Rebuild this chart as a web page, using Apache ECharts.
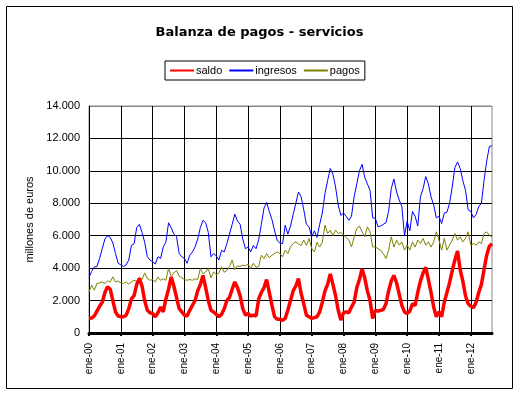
<!DOCTYPE html>
<html>
<head>
<meta charset="utf-8">
<script src="https://cdn.jsdelivr.net/npm/echarts@6/dist/echarts.min.js"></script>
<style>
html,body{margin:0;padding:0;background:#fff;}
#c{width:519px;height:395px;}
</style>
</head>
<body>
<div id="c"></div>
<script>
// ---- data ----
const monthNames = ['ene','feb','mar','abr','may','jun','jul','ago','sep','oct','nov','dic'];
const years = ['00','01','02','03','04','05','06','07','08','09','10','11','12'];
const lastYearMonths = 9; // ene-12 .. sep-12

const saldo = [
  900, 920, 1050, 1350, 1650, 1900, 2500, 2850, 2700, 2000, 1300, 1050,
  1000, 1000, 1100, 1500, 2100, 2300, 3000, 3350, 2900, 2000, 1400, 1250,
  1200, 1000, 1250, 1600, 1300, 2100, 2700, 3450, 2900, 2200, 1500, 1300,
  1100, 1050, 1400, 1700, 2000, 2600, 3000, 3550, 2800, 2000, 1400, 1300,
  1150, 1000, 1150, 1500, 2000, 2200, 2700, 3150, 2800, 2300, 1500, 1100,
  1200, 1050, 1100, 1050, 2100, 2500, 2800, 3300, 2500, 1700, 1000, 850,
  850, 780, 900, 1400, 2000, 2600, 2900, 3350, 2450, 1800, 1100, 1000,
  900, 950, 1000, 1300, 1900, 2600, 3000, 3650, 3000, 2300, 1400, 800,
  1250, 1300, 1250, 1600, 1900, 2800, 3300, 3950, 3400, 2600, 2000, 900,
  1400, 1350, 1400, 1450, 1800, 2600, 3200, 3550, 3100, 2400, 1700, 1300,
  1200, 1350, 1800, 1700, 2500, 3200, 3700, 4050, 3300, 2500, 1600, 1000,
  1300, 1000, 1900, 2500, 3100, 3850, 4500, 5050, 3900, 3200, 2300, 1800,
  1650, 1550, 1900, 2500, 3000, 3900, 4800, 5350, 5500
];
const ingresos = [
  3420, 3800, 4080, 4100, 4600, 5200, 5800, 6000, 5900, 5550, 4900, 4300,
  4200, 4100, 4200, 4500, 5400, 5500, 6500, 6700, 6200, 5600, 4700, 4500,
  4400, 4250, 4700, 4600, 5300, 5600, 6800, 6500, 6100, 5950, 4900, 4700,
  4600, 4300, 4800, 5000, 5300, 5800, 6500, 6950, 6800, 6200, 4700, 4900,
  4750, 4500, 5100, 5000, 5500, 6100, 6700, 7330, 6900, 6700, 5800, 5200,
  5300, 5000, 5400, 5200, 5750, 6700, 7700, 8050, 7500, 7000, 6300, 5700,
  5550, 5500, 6650, 6100, 6600, 7300, 8000, 8700, 8400, 7600, 6700, 6550,
  5950, 6300, 5900, 6700, 7400, 8600, 9400, 10150, 9800, 9000, 7900, 7250,
  7400, 7200, 6950, 7200, 8400, 9200, 10000, 10400, 9600, 9200, 8800, 7100,
  7070, 6550, 6600, 6700, 6800, 7500, 8900, 9500, 8700, 8200, 7800, 6000,
  6900, 6300, 7500, 7200, 6600, 8400, 8900, 9650, 9200, 8400, 7900, 7100,
  7200, 6750, 7400, 7450, 8000, 9000, 10200, 10550, 10150, 9400, 8800, 7600,
  7500, 7100, 7300, 7800, 8000, 9400, 10600, 11500, 11550
];
const pagos = [
  2530, 2950, 2640, 3050, 3090, 3150, 3050, 3210, 3150, 3460, 3150, 3200,
  3090, 3050, 3150, 3010, 3150, 3250, 3200, 3460, 3300, 3700, 3360, 3250,
  3300, 3150, 3450, 3250, 3350, 3250, 3980, 3500, 3700, 3870, 3500, 3400,
  3300, 3250, 3300, 3250, 3350, 3300, 3980, 3650, 3770, 3980, 3400, 3770,
  3600, 3700, 4080, 3750, 3850, 4100, 4490, 3900, 4150, 4100, 4180, 4150,
  4240, 3980, 4300, 4050, 4100, 4800, 4590, 4900, 4650, 4800, 4900, 5000,
  4900, 4700, 5110, 4900, 5310, 5520, 5620, 5500, 5400, 5730, 5400, 5830,
  5210, 5000, 5600, 5300, 5600, 6650, 6140, 6340, 6000, 6340, 6140, 6200,
  6040, 5900, 5730, 5310, 5900, 6450, 6590, 6240, 5930, 6550, 6240, 5310,
  5310, 5200, 5110, 4900, 4590, 5110, 5930, 5300, 5730, 5420, 5620, 5110,
  5420, 5110, 5620, 5300, 5730, 5520, 5830, 5420, 5620, 5300, 5620, 6240,
  5730, 5110, 5830, 5110, 5420, 5730, 6140, 5730, 5930, 5620, 5830, 6240,
  5420, 5520, 5420, 5620, 5520, 6140, 6240, 6030, 5930
];
const yTicks = [0, 2000, 4000, 6000, 8000, 10000, 12000, 14000];

// categories
const categories = [];
years.forEach((y, yi) => {
  const n = (yi === years.length - 1) ? lastYearMonths : 12;
  for (let m = 0; m < n; m++) categories.push(monthNames[m] + '-' + y);
});

const fontFam = '"Liberation Sans", Arial, sans-serif';
const isJan = (idx) => idx % 12 === 0;

const chart = echarts.init(document.getElementById('c'), null, {renderer: 'canvas'});
chart.setOption({
  animation: false,
  backgroundColor: '#fff',
  title: {
    text: 'Balanza de pagos - servicios',
    left: 'center',
    top: 21,
    textStyle: {fontFamily: '"DejaVu Sans", sans-serif', fontSize: 13, fontWeight: 'bold', color: '#000'}
  },
  legend: {
    left: 165,
    top: 61,
    padding: [4, 5, 4, 4],
    itemGap: 6,
    itemWidth: 24,
    itemHeight: 10,
    borderColor: '#000',
    borderWidth: 1,
    itemStyle: {opacity: 0},
    textStyle: {fontFamily: fontFam, fontSize: 11, color: '#000', padding: [0, 0, 0, -3]},
    data: ['saldo', 'ingresos', 'pagos']
  },
  graphic: [{
    type: 'rect',
    shape: {x: 6.5, y: 6.5, width: 506, height: 382},
    style: {fill: 'none', stroke: '#000', lineWidth: 1},
    silent: true,
    z: -1
  }],
  grid: {
    left: 89,
    right: 27,
    top: 106,
    bottom: 62,
    show: true,
    borderColor: '#888',
    borderWidth: 1,
    containLabel: false
  },
  xAxis: {
    type: 'category',
    data: categories,
    boundaryGap: false,
    axisLine: {show: true, lineStyle: {color: '#000', width: 3}},
    axisTick: {show: true, interval: (idx) => isJan(idx), length: 3, lineStyle: {color: '#000', width: 2}},
    axisLabel: {
      interval: (idx) => isJan(idx),
      rotate: 90,
      margin: 10,
      fontFamily: fontFam,
      fontSize: 10,
      color: '#000'
    },
    splitLine: {show: true, interval: (idx) => isJan(idx), lineStyle: {color: '#000', width: 1}}
  },
  yAxis: {
    type: 'value',
    min: yTicks[0],
    max: yTicks[yTicks.length - 1],
    interval: 2000,
    name: 'millones de euros',
    nameLocation: 'middle',
    nameGap: 44,
    nameTextStyle: {fontFamily: fontFam, fontSize: 11, color: '#000'},
    axisLine: {show: true, lineStyle: {color: '#000', width: 1}},
    axisTick: {show: false},
    axisLabel: {
      margin: 9,
      fontFamily: fontFam,
      fontSize: 11,
      color: '#000',
      formatter: (v) => v === 0 ? '0' : v.toLocaleString('de-DE', {minimumFractionDigits: 0}).replace(/,/g, '.')
    },
    splitLine: {show: true, lineStyle: {color: ['#000','#000','#000','#000','#000','#000','#000','#888'], width: 1}}
  },
  series: [
    {name: 'saldo', type: 'line', data: saldo, symbol: 'none', lineStyle: {color: '#ff0000', width: 3.5}, itemStyle: {color: '#ff0000'}, z: 4},
    {name: 'ingresos', type: 'line', data: ingresos, symbol: 'none', lineStyle: {color: '#0000ff', width: 1}, itemStyle: {color: '#0000ff'}, z: 3},
    {name: 'pagos', type: 'line', data: pagos, symbol: 'none', lineStyle: {color: '#808000', width: 1}, itemStyle: {color: '#808000'}, z: 2}
  ]
});
</script>
</body>
</html>
